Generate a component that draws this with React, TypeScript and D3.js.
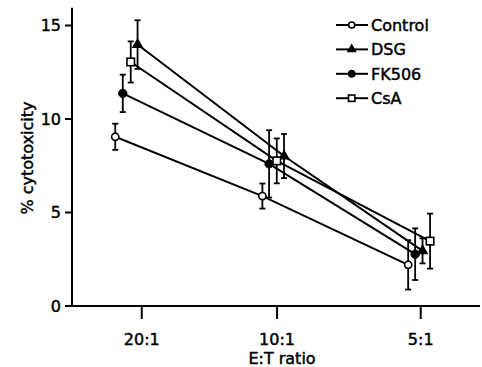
import React from "react";
import * as d3 from "d3";

// E:T ratio categories and their positions on the x axis
const categories = ["20:1", "10:1", "5:1"];
const categoryPos = [1, 1.97, 3];

// series: x positions (jittered around each category), means and error bar half-widths
const controlX = [0.81, 1.865, 2.91];
const controlMean = [9.05, 5.88, 2.2];
const controlErr = [0.7, 0.67, 1.32];

const dsgX = [0.97, 2.02, 3.013];
const dsgMean = [13.98, 8.02, 2.95];
const dsgErr = [1.3, 1.18, 0.67];

const fk506X = [0.864, 1.913, 2.96];
const fk506Mean = [11.37, 7.6, 2.77];
const fk506Err = [1.0, 1.8, 1.38];

const csaX = [0.921, 1.968, 3.067];
const csaMean = [13.05, 7.76, 3.47];
const csaErr = [1.1, 1.2, 1.47];

const yTicks = [0, 5, 10, 15];

type Marker = "openCircle" | "triangle" | "filledCircle" | "openSquare";

const series: { name: string; marker: Marker; xs: number[]; means: number[]; errs: number[] }[] = [
  { name: "Control", marker: "openCircle", xs: controlX, means: controlMean, errs: controlErr },
  { name: "DSG", marker: "triangle", xs: dsgX, means: dsgMean, errs: dsgErr },
  { name: "FK506", marker: "filledCircle", xs: fk506X, means: fk506Mean, errs: fk506Err },
  { name: "CsA", marker: "openSquare", xs: csaX, means: csaMean, errs: csaErr },
];

const FONT = "'DejaVu Sans', 'Liberation Sans', Arial, sans-serif";

function MarkerShape({ type, cx, cy, scale = 1 }: { type: Marker; cx: number; cy: number; scale?: number }) {
  if (type === "openCircle") {
    return <circle cx={cx} cy={cy} r={3.6 * scale} fill="#fff" stroke="#000" strokeWidth={1.6} />;
  }
  if (type === "filledCircle") {
    return <circle cx={cx} cy={cy} r={4.2 * scale} fill="#000" stroke="#000" strokeWidth={1} />;
  }
  if (type === "openSquare") {
    const s = 7.5 * scale;
    return <rect x={cx - s / 2} y={cy - s / 2} width={s} height={s} fill="#fff" stroke="#000" strokeWidth={1.6} />;
  }
  const tri = d3.symbol(d3.symbolTriangle, 60 * scale * scale)();
  return <path d={tri ?? ""} transform={`translate(${cx},${cy})`} fill="#000" />;
}

export default function App() {
  const width = 482;
  const height = 367;

  const x = d3.scaleLinear().domain([0.5, 3.425]).range([72, 480]);
  const y = d3.scaleLinear().domain([0, 15]).range([306, 25.5]);

  const line = d3
    .line<[number, number]>()
    .x((d) => x(d[0]))
    .y((d) => y(d[1]));

  const legendY = [25, 49.4, 73.8, 98.2];
  const textStyle = { stroke: "#000", strokeWidth: 0.45 };

  return (
    <svg
      width={width}
      height={height}
      style={{ position: "absolute", left: 0, top: 0, background: "#fff" }}
      fontFamily={FONT}
    >
      <rect width={width} height={height} fill="#fff" />

      {/* axes */}
      <line x1={x(0.5)} x2={x(0.5)} y1={y(0)} y2={y(15.95)} stroke="#000" strokeWidth={2} />
      <line x1={x(0.5)} x2={x(3.425)} y1={y(0)} y2={y(0)} stroke="#000" strokeWidth={2} />

      {yTicks.map((t) => (
        <g key={t}>
          <line x1={x(0.5) - 7} x2={x(0.5)} y1={y(t)} y2={y(t)} stroke="#000" strokeWidth={2} />
          <text x={61} y={y(t)} dy="0.36em" textAnchor="end" fontSize={16} {...textStyle}>
            {t}
          </text>
        </g>
      ))}

      {categories.map((c, i) => (
        <g key={c}>
          <line x1={x(categoryPos[i])} x2={x(categoryPos[i])} y1={y(0)} y2={y(0) + 13} stroke="#000" strokeWidth={2} />
          <text x={x(categoryPos[i])} y={345} textAnchor="middle" fontSize={16} {...textStyle}>
            {c}
          </text>
        </g>
      ))}

      <text x={282} y={364} textAnchor="middle" fontSize={16} {...textStyle}>
        E:T ratio
      </text>
      <text transform="translate(32.5,158) rotate(-90)" textAnchor="middle" fontSize={16} {...textStyle}>
        % cytotoxicity
      </text>

      {/* error bars */}
      {series.map((s) =>
        s.xs.map((xv, i) => {
          const px = x(xv);
          const top = y(s.means[i] + s.errs[i]);
          const bot = y(s.means[i] - s.errs[i]);
          return (
            <g key={`${s.name}-err-${i}`} stroke="#000" strokeWidth={1.8}>
              <line x1={px} x2={px} y1={top} y2={bot} />
              <line x1={px - 3} x2={px + 3} y1={top} y2={top} />
              <line x1={px - 3} x2={px + 3} y1={bot} y2={bot} />
            </g>
          );
        })
      )}

      {/* series lines */}
      {series.map((s) => (
        <path
          key={`${s.name}-line`}
          d={line(s.xs.map((xv, i) => [xv, s.means[i]] as [number, number])) ?? ""}
          fill="none"
          stroke="#000"
          strokeWidth={2}
        />
      ))}

      {/* markers */}
      {series.map((s) =>
        s.xs.map((xv, i) => <MarkerShape key={`${s.name}-m-${i}`} type={s.marker} cx={x(xv)} cy={y(s.means[i])} />)
      )}

      {/* legend */}
      {series.map((s, i) => (
        <g key={`${s.name}-legend`}>
          <line x1={336} x2={368} y1={legendY[i]} y2={legendY[i]} stroke="#000" strokeWidth={2} />
          <MarkerShape type={s.marker} cx={351.7} cy={legendY[i]} scale={0.85} />
          <text x={371} y={legendY[i]} dy="0.36em" fontSize={16} {...textStyle}>
            {s.name}
          </text>
        </g>
      ))}
    </svg>
  );
}
